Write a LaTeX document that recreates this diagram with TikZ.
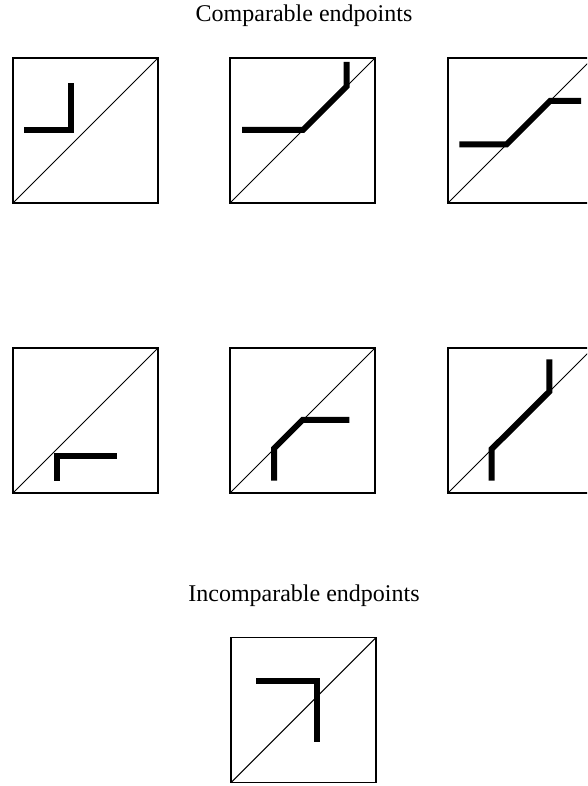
\documentclass[tikz,border=0pt]{standalone}
\usepackage{fontspec}
\setmainfont{Liberation Serif}
\begin{document}
\begin{tikzpicture}[x=1pt,y=1pt,
  frame/.style={draw=black,line width=1.2pt},
  diag/.style={draw=black,line width=1pt},
  trail/.style={draw=black,line width=6pt,line join=miter,line cap=butt},
  heading/.style={font=\fontsize{24}{28}\selectfont,anchor=base,inner sep=0pt}]
\clip (0,0) rectangle (587,786);
\useasboundingbox (0,0) rectangle (587,786);
\node[heading] (t1) at (304,764.3) {Comparable endpoints};
\node[heading] (t2) at (304,184.3) {Incomparable endpoints};
% row 1
\begin{scope}[shift={(13,583)}]
  \draw[frame] (0,0) rectangle (145,145);
  \draw[diag] (0,0) -- (145,145);
  \draw[trail] (11,73) -- (57.7,73) -- (57.7,119.7);
\end{scope}
\begin{scope}[shift={(230,583)}]
  \draw[frame] (0,0) rectangle (145,145);
  \draw[diag] (0,0) -- (145,145);
  \draw[trail] (12,73) -- (73,73) -- (116.5,116.5) -- (116.5,141);
\end{scope}
\begin{scope}[shift={(448,583)}]
  \draw[frame] (0,0) rectangle (145,145);
  \draw[diag] (0,0) -- (145,145);
  \draw[trail] (11.3,58.5) -- (58.5,58.5) -- (102,102) -- (133,102);
\end{scope}
% row 2
\begin{scope}[shift={(13,293)}]
  \draw[frame] (0,0) rectangle (145,145);
  \draw[diag] (0,0) -- (145,145);
  \draw[trail] (43.7,12) -- (43.7,37) -- (104.3,37);
\end{scope}
\begin{scope}[shift={(230,293)}]
  \draw[frame] (0,0) rectangle (145,145);
  \draw[diag] (0,0) -- (145,145);
  \draw[trail] (44,12.3) -- (44,44.5) -- (72.5,73) -- (119.3,73);
\end{scope}
\begin{scope}[shift={(448,293)}]
  \draw[frame] (0,0) rectangle (145,145);
  \draw[diag] (0,0) -- (145,145);
  \draw[trail] (43.7,12.3) -- (43.7,44) -- (101.3,101.3) -- (101.3,133.7);
\end{scope}
% row 3
\begin{scope}[shift={(231,3.3)}]
  \draw[frame] (0,0) rectangle (145,145);
  \draw[diag] (0,0) -- (145,145);
  \draw[trail] (25,101.3) -- (86,101.3) -- (86,41);
\end{scope}
\end{tikzpicture}
\end{document}
